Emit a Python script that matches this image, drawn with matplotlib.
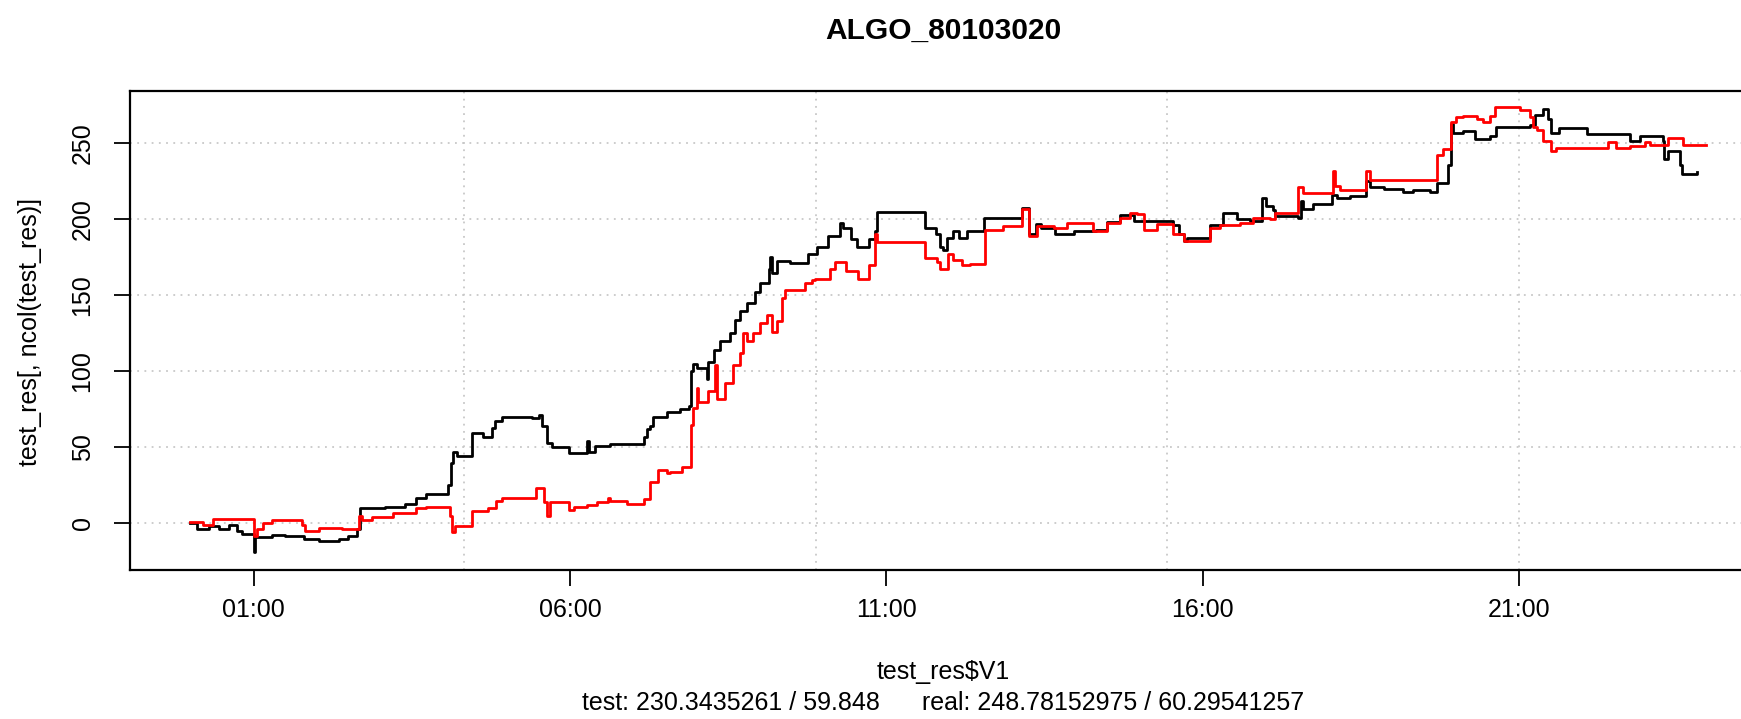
import matplotlib
matplotlib.use("Agg")
import matplotlib.pyplot as plt
import numpy as np

plt.rcParams['font.family'] = ['Liberation Sans', 'DejaVu Sans']

# time of day in hours, cumulative result (step series)
test_h = [0.00, 0.11, 0.29, 0.45, 0.61, 0.74, 0.82, 1.00, 1.03, 1.29, 1.50, 1.79,
          2.03, 2.35, 2.50, 2.64, 2.69, 3.08, 3.40, 3.56, 3.72, 4.08, 4.12, 4.16,
          4.22, 4.45, 4.62, 4.77, 4.82, 4.93, 5.40, 5.51, 5.56, 5.64, 5.72, 5.98,
          6.27, 6.30, 6.40, 6.64, 7.17, 7.22, 7.27, 7.32, 7.53, 7.74, 7.88, 7.91,
          7.95, 8.01, 8.16, 8.19, 8.27, 8.38, 8.53, 8.61, 8.69, 8.80, 8.93, 9.01,
          9.14, 9.16, 9.19, 9.27, 9.48, 9.77, 9.90, 10.08, 10.27, 10.32, 10.45, 10.53,
          10.72, 10.82, 10.85, 11.61, 11.79, 11.85, 11.90, 11.96, 12.06, 12.15, 12.27, 12.54,
          13.14, 13.25, 13.36, 13.44, 13.67, 13.96, 14.31, 14.49, 14.70, 14.91, 15.54, 15.62,
          15.70, 15.75, 16.12, 16.33, 16.54, 16.75, 16.94, 17.01, 17.12, 17.14, 17.51, 17.56,
          17.59, 17.75, 18.04, 18.12, 18.33, 18.59, 18.64, 18.86, 19.17, 19.33, 19.59, 19.70,
          19.88, 19.93, 19.96, 20.12, 20.30, 20.54, 20.64, 21.17, 21.25, 21.38, 21.46, 21.51,
          21.64, 22.07, 22.33, 22.75, 22.91, 23.28, 23.30, 23.36, 23.54, 23.57, 23.81]
test_v = [0, -4, -2, -4, -1, -5, -7, -19, -9, -7.5, -8, -10,
          -11.5, -10, -8, -4, 10, 11, 13, 17, 19, 25, 40, 47,
          44, 59.5, 57, 63, 67.5, 70, 69, 71, 64, 53, 50, 46,
          54, 47, 51, 52, 57, 62, 64, 70, 73, 75, 77, 100,
          105, 102, 95, 106, 114, 119.8, 125, 134, 140, 145, 152, 158,
          167, 175, 164.6, 172.5, 171.5, 177, 182, 189, 197.7, 194.5, 187, 182,
          187, 192, 205, 194.5, 190, 182, 180, 187.7, 192, 188, 192, 201,
          207.6, 190, 197, 194, 190, 192, 193, 198, 202.5, 199, 196, 190,
          186, 187.7, 196, 204, 200, 199, 214, 209, 206, 202, 201, 212,
          207, 210, 216, 214, 215.3, 225, 221.5, 220, 218, 219, 218, 224,
          236, 262.8, 257, 258, 253, 255, 260.6, 261.7, 268.3, 272.7, 266, 257,
          260, 256, 256, 251.8, 255, 251.8, 239.6, 245, 236, 230, 231]

real_h = [0.00, 0.20, 0.36, 1.00, 1.06, 1.15, 1.29, 1.77, 1.82, 2.03, 2.40, 2.66,
          2.72, 2.87, 3.20, 3.56, 3.72, 4.11, 4.14, 4.19, 4.45, 4.71, 4.84, 4.93,
          5.46, 5.59, 5.64, 5.69, 5.98, 6.06, 6.27, 6.43, 6.61, 6.64, 6.90, 7.17,
          7.27, 7.40, 7.53, 7.58, 7.77, 7.91, 7.95, 8.01, 8.03, 8.19, 8.29, 8.32,
          8.45, 8.58, 8.69, 8.74, 8.80, 8.90, 9.01, 9.11, 9.19, 9.27, 9.35, 9.40,
          9.72, 9.82, 9.87, 10.11, 10.19, 10.37, 10.56, 10.72, 10.82, 10.85, 11.61, 11.80,
          11.85, 11.98, 12.06, 12.19, 12.33, 12.56, 12.85, 13.14, 13.25, 13.38, 13.65, 13.86,
          14.27, 14.49, 14.70, 14.85, 14.97, 15.07, 15.28, 15.54, 15.70, 16.12, 16.28, 16.59,
          16.80, 17.06, 17.14, 17.51, 17.59, 18.06, 18.09, 18.17, 18.59, 18.64, 19.70, 19.80,
          19.93, 20.01, 20.12, 20.33, 20.43, 20.54, 20.62, 21.01, 21.17, 21.22, 21.28, 21.38,
          21.51, 21.59, 22.41, 22.54, 22.75, 22.99, 23.07, 23.36, 23.59, 23.96]
real_v = [1, -1, 3, -8, -4, 0, 2.5, -1, -5, -3, -4, 5,
          2, 4, 6.5, 10, 11, 5, -6, -2, 8, 10, 15, 17,
          23, 14, 5, 14, 9, 11, 12, 14, 17, 14.5, 13, 16,
          27, 35, 33, 34, 37, 65, 76, 89, 80, 87, 104, 82,
          92, 104, 112, 125, 120, 125, 131.6, 137, 126, 133, 148, 153.5,
          158, 160, 161, 167, 172, 165.7, 161, 170, 190, 185, 174.5, 172,
          167, 177, 173, 170, 170.7, 193, 195.5, 206.5, 189, 195.5, 194, 197.7,
          192, 197.7, 201, 204, 203.6, 193, 197, 190, 186, 194, 196.5, 197.7,
          201, 200, 204.4, 221.5, 217, 232, 222, 219, 232, 226, 242, 246,
          264, 267, 268, 266, 264, 268, 273.8, 271.6, 267, 260.6, 258.5, 251.8,
          245, 247, 250.6, 247, 248.5, 250.6, 249, 253.7, 249, 249]

tick_hours = [1, 6, 11, 16, 21]
grid_hours = [4.333, 9.889, 15.444, 21.0]
y_ticks = [0, 50, 100, 150, 200, 250]

title = "ALGO_80103020"
sub = "test: 230.3435261 / 59.848      real: 248.78152975 / 60.29541257"

fig = plt.figure(figsize=(17.41, 7.19), dpi=100)
ax = fig.add_axes([130 / 1741, 149 / 719, 1627 / 1741, 479 / 719])

# R style ranges: 4% padding around the first series
xr = test_h[-1] - test_h[0]
yr = max(test_v) - min(test_v)
ax.set_xlim(test_h[0] - 0.04 * xr, test_h[-1] + 0.04 * xr)
ax.set_ylim(min(test_v) - 0.04 * yr, max(test_v) + 0.04 * yr)

for y in y_ticks:
    ax.axhline(y, color='#c8c8c8', lw=1.3, ls=(0, (1, 3)), zorder=1)
for g in grid_hours:
    ax.axvline(g, color='#c8c8c8', lw=1.3, ls=(0, (1, 3)), zorder=1)

ax.step(test_h, test_v, where='post', color='black', lw=2.0, zorder=3)
ax.step(real_h, real_v, where='post', color='red', lw=2.0, zorder=3)

ax.set_xticks(tick_hours)
ax.set_xticklabels([f"{h:02d}:00" for h in tick_hours])
ax.set_yticks(y_ticks)
ax.set_yticklabels([str(y) for y in y_ticks], rotation=90, va='center')
ax.tick_params(axis='both', direction='out', length=11.5, width=1.3,
               labelsize=18, color='black')
ax.tick_params(axis='x', pad=9)
ax.tick_params(axis='y', pad=14)
for s in ax.spines.values():
    s.set_linewidth(1.6)

cx = (130 + 1627 / 2) / 1741
fig.text(cx, 1 - 31 / 719, title, ha='center', va='center', fontsize=21.5, fontweight='bold')
fig.text(cx, 1 - 672 / 719, "test_res$V1", ha='center', va='center', fontsize=18)
fig.text(cx, 1 - 703 / 719, sub, ha='center', va='center', fontsize=18)
fig.text(30 / 1741, 1 - 332 / 719, "test_res[, ncol(test_res)]", ha='center', va='center',
         rotation=90, fontsize=18)

fig.savefig("out.png", dpi=100)
